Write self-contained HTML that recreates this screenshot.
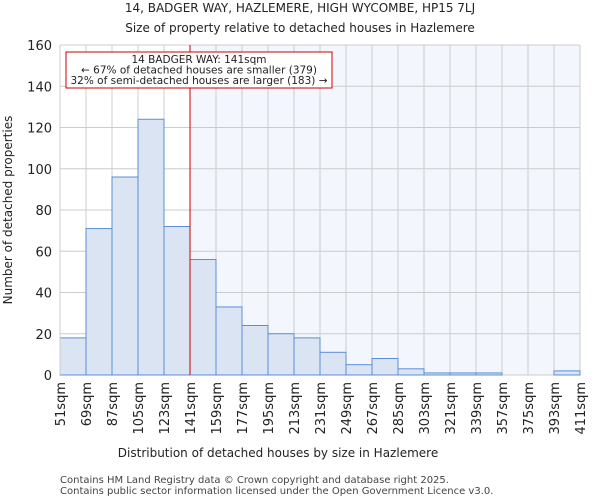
<!DOCTYPE html>
<html><head><meta charset="utf-8"><style>
body{margin:0;background:#fff;font-family:"DejaVu Sans","Liberation Sans",sans-serif;}
</style></head><body>
<svg width="600" height="500" viewBox="0 0 600 500" xmlns="http://www.w3.org/2000/svg" font-family="DejaVu Sans, Liberation Sans, sans-serif">
<text x="300" y="12" text-anchor="middle" font-size="12" fill="#222">14, BADGER WAY, HAZLEMERE, HIGH WYCOMBE, HP15 7LJ</text>
<text x="300" y="32" text-anchor="middle" font-size="12" fill="#222">Size of property relative to detached houses in Hazlemere</text>
<g id="plot"></g>
<text x="278" y="457" text-anchor="middle" font-size="12" fill="#222">Distribution of detached houses by size in Hazlemere</text>
<text transform="translate(12,210) rotate(-90)" text-anchor="middle" font-size="12" fill="#222">Number of detached properties</text>
<text x="60" y="483" font-size="10" fill="#444">Contains HM Land Registry data © Crown copyright and database right 2025.</text>
<text x="60" y="494" font-size="10" fill="#444">Contains public sector information licensed under the Open Government Licence v3.0.</text>
</svg>
<script>
const binStarts=[51,69,87,105,123,141,159,177,195,213,231,249,267,285,303,321,339,357,375,393];
const counts=[18,71,96,124,72,56,33,24,20,18,11,5,8,3,1,1,1,0,0,2];
const yTicks=[0,20,40,60,80,100,120,140,160];
const xTickLabels=[51,69,87,105,123,141,159,177,195,213,231,249,267,285,303,321,339,357,375,393,411];
const propertySize=141;

const NS="http://www.w3.org/2000/svg";
const L=60,R=580,T=45,B=375,xMin=51,xMax=411,yMax=160;
const xs=v=>L+(v-xMin)/(xMax-xMin)*(R-L);
const ys=v=>B-v/yMax*(B-T);
const g=document.getElementById('plot');
function mk(tag,attrs){const e=document.createElementNS(NS,tag);for(const k in attrs)e.setAttribute(k,attrs[k]);g.appendChild(e);return e;}
const bw=18;
let sh=mk('rect',{x:xs(propertySize),y:T,width:R-xs(propertySize),height:B-T,fill:'#f3f6fd'});


yTicks.forEach(t=>{let l=mk('line',{x1:L,x2:R,y1:ys(t),y2:ys(t),stroke:'#cccccc','stroke-width':1});

});
xTickLabels.forEach(t=>{let l=mk('line',{x1:xs(t),x2:xs(t),y1:T,y2:B,stroke:'#cccccc','stroke-width':1});

});
counts.forEach((c,i)=>{const x0=xs(binStarts[i]),x1=xs(binStarts[i]+bw);
let r=mk('rect',{x:x0,y:ys(c),width:x1-x0,height:B-ys(c),fill:'#dae4f3',stroke:'#5b8fd6','stroke-width':1});

});
let ax=mk('line',{x1:L,x2:L,y1:T,y2:B,stroke:'#cccccc'});


yTicks.forEach(t=>{let tx=mk('text',{x:L-8,y:ys(t)+5,'text-anchor':'end','font-size':13,fill:'#222'});tx.textContent=t;

});
xTickLabels.forEach(t=>{let tx=mk('text',{transform:`translate(${xs(t)+5},382) rotate(-90)`,'text-anchor':'end','font-size':13,fill:'#222'});tx.textContent=t+'sqm';

});
let pl=mk('line',{x1:xs(propertySize),x2:xs(propertySize),y1:T,y2:B,stroke:'#cc0000','stroke-width':1});


let box=mk('rect',{x:66,y:52,width:266,height:36,fill:'#fff',stroke:'#cc0000','stroke-width':1});


['14 BADGER WAY: 141sqm','← 67% of detached houses are smaller (379)','32% of semi-detached houses are larger (183) →'].forEach((s,i)=>{
let tx=mk('text',{x:199,y:63+i*10.5,'text-anchor':'middle','font-size':10.5,fill:'#222'});tx.textContent=s;

});
</script>
</body></html>
